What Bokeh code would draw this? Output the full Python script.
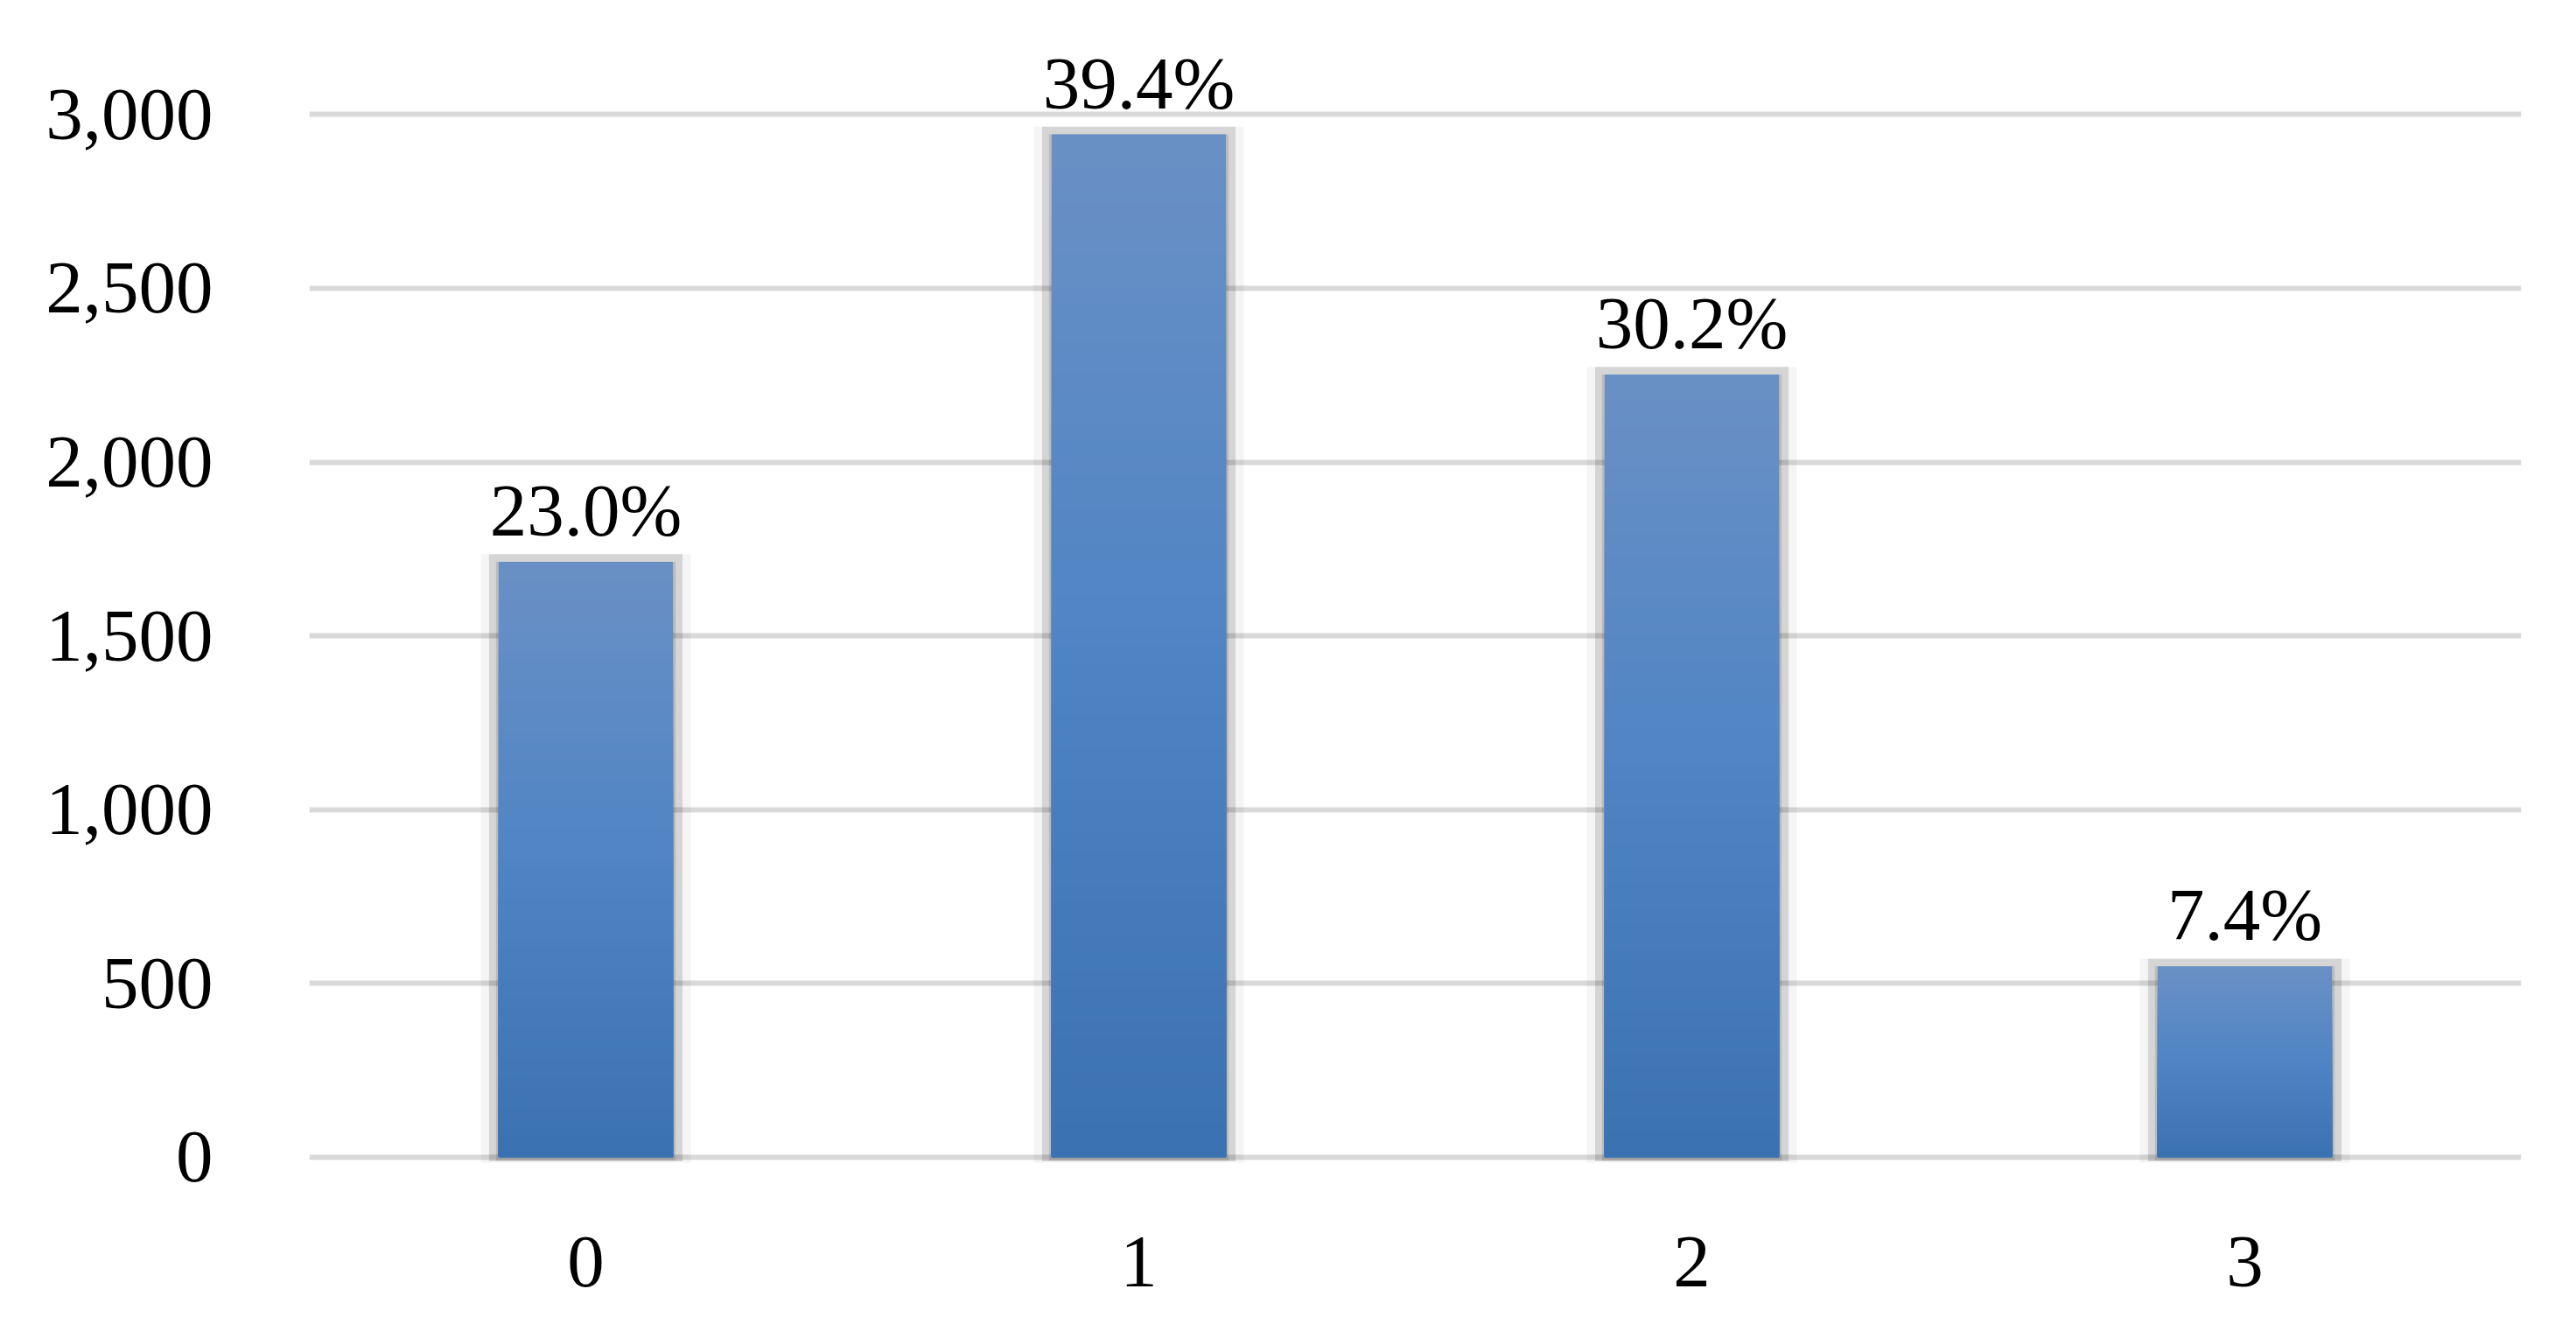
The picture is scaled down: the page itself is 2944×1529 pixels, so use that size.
from bokeh.plotting import figure
from bokeh.models import ColumnDataSource, FixedTicker, NumeralTickFormatter, Range1d
from bokeh.core.properties import value
from bokeh.embed import file_html
from bokeh.resources import INLINE

categories = ["0", "1", "2", "3"]
counts = [1713, 2943, 2252, 549]
pct_labels = ["23.0%", "39.4%", "30.2%", "7.4%"]
y_ticks = [0, 500, 1000, 1500, 2000, 2500, 3000]

FONT = "Liberation Serif"

src = ColumnDataSource(dict(
    cat=categories,
    count=counts,
    label=pct_labels,
    shadow_top=[c + 22 for c in counts],
))

p = figure(
    x_range=categories,
    y_range=Range1d(-18, 3200),
    width=2928, height=1513,
    output_backend="svg",
    toolbar_location=None,
    min_border_left=353, min_border_right=47,
    min_border_top=51, min_border_bottom=184,
)
p.outline_line_color = None
p.background_fill_color = "white"
p.border_fill_color = "white"

# soft shadow behind bars (translucent so gridlines show through)
p.vbar(x="cat", top="shadow_top", bottom=-16, width=0.38, source=src,
       fill_color="black", fill_alpha=0.04, line_color=None)
p.vbar(x="cat", top="shadow_top", bottom=-12, width=0.35, source=src,
       fill_color="black", fill_alpha=0.13, line_color=None)
p.vbar(x="cat", top="count", bottom=-10, width=0.325, source=src,
       fill_color="black", fill_alpha=0.12, line_color=None)

# vertical gradient fill: light at top, darker at bottom
def lerp(c1, c2, t):
    a = [int(c1[i:i + 2], 16) for i in (1, 3, 5)]
    b = [int(c2[i:i + 2], 16) for i in (1, 3, 5)]
    return "#%02x%02x%02x" % tuple(round(a[i] + (b[i] - a[i]) * t) for i in range(3))

TOP_C, MID_C, BOT_C = "#6990c5", "#4f84c4", "#3a71b1"
N = 60
for k in range(N, 0, -1):
    f = k / N
    col = lerp(BOT_C, MID_C, f / 0.5) if f <= 0.5 else lerp(MID_C, TOP_C, (f - 0.5) / 0.5)
    p.vbar(x=categories, top=[c * f for c in counts], width=0.315,
           fill_color=col, line_color=None)

p.text(x="cat", y="count", text="label", source=src,
       text_font=value(FONT), text_font_size="85px", text_color="black",
       text_align="center", text_baseline="bottom", y_offset=-12)

p.yaxis.ticker = FixedTicker(ticks=y_ticks)
p.yaxis.formatter = NumeralTickFormatter(format="0,0")
for ax in (p.xaxis[0], p.yaxis[0]):
    ax.axis_line_color = None
    ax.major_tick_line_color = None
    ax.minor_tick_line_color = None
    ax.major_label_text_font = FONT
    ax.major_label_text_font_size = "85px"
    ax.major_label_text_color = "black"
p.yaxis.major_label_standoff = 104
p.xaxis.major_label_standoff = 78

p.xgrid.grid_line_color = None
p.ygrid.ticker = FixedTicker(ticks=y_ticks)
p.ygrid.grid_line_color = "#d9d9d9"
p.ygrid.grid_line_width = 6
p.x_range.range_padding = 0.0

open("out.html", "w").write(file_html(p, INLINE))
